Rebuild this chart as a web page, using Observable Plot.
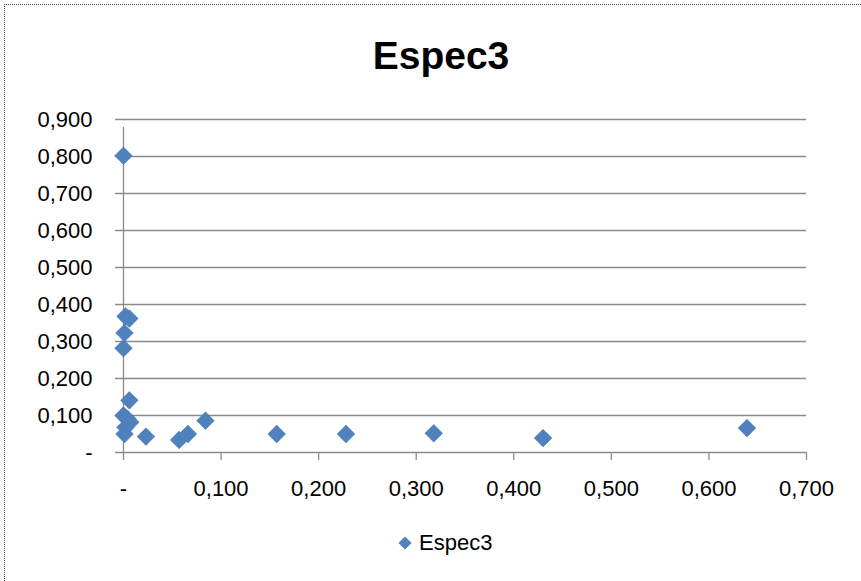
<!DOCTYPE html>
<html><head><meta charset="utf-8">
<script src="https://cdn.jsdelivr.net/npm/d3@7"></script>
<script src="https://cdn.jsdelivr.net/npm/@observablehq/plot@0.6"></script>
<style>
body{margin:0;background:#fff;}
#wrap{position:relative;width:861px;height:581px;overflow:hidden;font-family:"Liberation Sans",Arial,sans-serif;color:#000;}
#frame{position:absolute;left:4px;top:4px;width:900px;height:700px;border-left:1px dotted #444;border-top:1px dotted #444;}
#title{position:absolute;left:0;width:882px;top:34px;text-align:center;font-weight:bold;font-size:39px;}
#chart{position:absolute;left:0;top:100px;}
#legend{position:absolute;top:530px;left:394px;font-size:22px;display:flex;align-items:center;gap:3px;}
</style>
</head><body>
<div id="wrap">
  <div id="frame"></div>
  <div id="title">Espec3</div>
  <div id="chart"></div>
  <div id="legend"><svg width="22" height="26"></svg><span>Espec3</span></div>
</div>
<script>
const seriesName = "Espec3";
const xValues = [0.000, 0.002, 0.006, 0.001, 0.000, 0.006, 0.000, 0.004, 0.007, 0.002, 0.001, 0.023, 0.057, 0.066, 0.084, 0.157, 0.228, 0.318, 0.430, 0.639];
const yValues = [0.802, 0.368, 0.362, 0.323, 0.282, 0.141, 0.100, 0.091, 0.082, 0.068, 0.050, 0.043, 0.034, 0.050, 0.086, 0.050, 0.050, 0.052, 0.039, 0.066];
const xTicks = [0, 0.1, 0.2, 0.3, 0.4, 0.5, 0.6, 0.7];
const yTicks = [0, 0.1, 0.2, 0.3, 0.4, 0.5, 0.6, 0.7, 0.8, 0.9];

const data = xValues.map((x, i) => ({x, y: yValues[i]}));
const fmt = d => d === 0 ? "-" : d3.format(".3f")(d).replace(".", ",");
const blue = "#4F81BD";
const grid = "#8a8a8a";

const chart = Plot.plot({
  width: 861,
  height: 400,
  marginLeft: 123,
  marginRight: 55,
  marginTop: 19,
  marginBottom: 48,
  x: {domain: [0, 0.7], label: null},
  y: {domain: [0, 0.9], label: null},
  style: {fontFamily: "'Liberation Sans', Arial, sans-serif", fontSize: "22px", color: "#000", background: "transparent", overflow: "visible"},
  marks: [
    Plot.ruleY(yTicks, {stroke: grid, strokeWidth: 1.3, insetLeft: -8}),
    Plot.ruleX([0], {y1: 0, y2: 0.9, stroke: grid, strokeWidth: 1.3, insetBottom: -8}),
    Plot.axisX(xTicks, {tickSize: 8, tickPadding: 20, tickFormat: fmt, stroke: grid, strokeWidth: 1.3, fill: "#000", fontSize: 22, label: null}),
    Plot.axisY(yTicks, {tickSize: 0, tickPadding: 31, tickFormat: fmt, fill: "#000", fontSize: 22, label: null}),
    Plot.dot(data, {x: "x", y: "y", symbol: "diamond2", r: 8, fill: blue, stroke: "#4a7ab3", strokeWidth: 0.5})
  ]
});
document.getElementById("chart").appendChild(chart);

const sw = d3.select("#legend svg");
sw.append("path").attr("d", d3.symbol(d3.symbolDiamond2, 110)()).attr("transform", "translate(11,13)").attr("fill", blue);
document.querySelector("#legend span").textContent = seriesName;
</script>
</body></html>
